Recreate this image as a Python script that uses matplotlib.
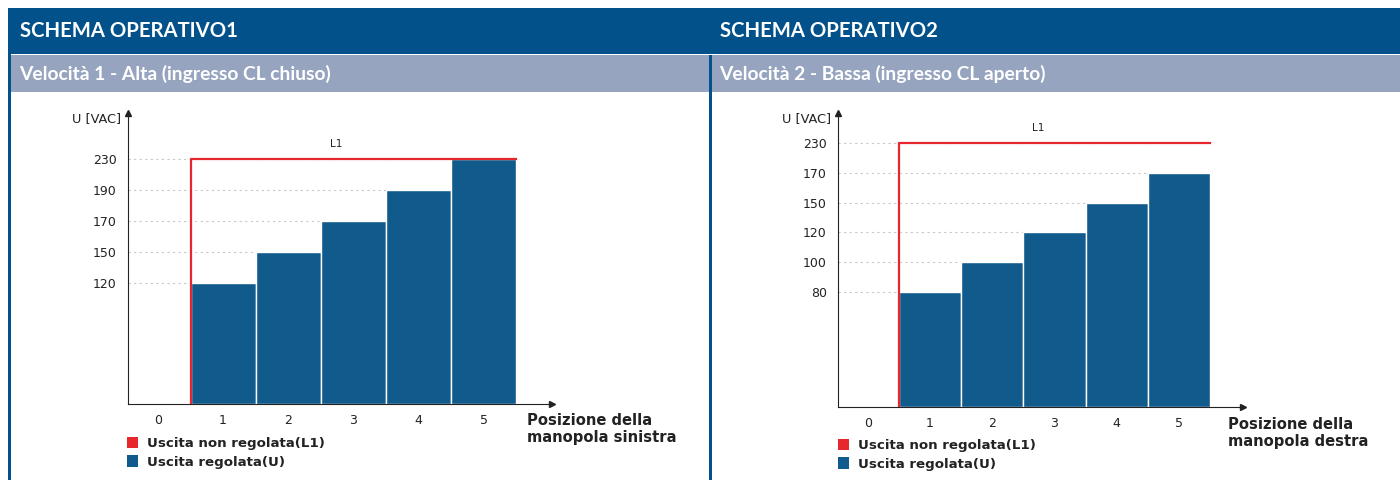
import numpy as np
import matplotlib
matplotlib.use('Agg')
import matplotlib.pyplot as plt
from matplotlib.patches import Rectangle, Patch

# data
POSITIONS = [0, 1, 2, 3, 4, 5]
BAR_POS = [1, 2, 3, 4, 5]

U_LEFT = [120, 150, 170, 190, 230]       # regulated output, left knob
U_RIGHT = [80, 100, 120, 150, 170]       # regulated output, right knob
L1_LEFT = [230, 230, 230, 230, 230]
L1_RIGHT = [230, 230, 230, 230, 230]

YTICKS_LEFT = [120, 150, 170, 190, 230]
YTICKS_RIGHT = [80, 100, 120, 150, 170, 230]

HEADERS = ['SCHEMA OPERATIVO1', 'SCHEMA OPERATIVO2']
SUBHEADERS = ['Velocità 1 - Alta (ingresso CL chiuso)',
              'Velocità 2 - Bassa (ingresso CL aperto)']
XLABELS = ['Posizione della\nmanopola sinistra', 'Posizione della\nmanopola destra']
LEGEND = ['Uscita non regolata(L1)', 'Uscita regolata(U)']

# colours
DARK = '#02518A'
LIGHT = '#96A4C0'
BAR = '#115A8C'
RED = '#E8262E'

W, H = 1400, 480
fig = plt.figure(figsize=(W / 100, H / 100), dpi=100)


def frac(x0, y0, x1, y1):
    # pixel box (top-left origin) -> figure fraction rect
    return [x0 / W, 1 - y1 / H, (x1 - x0) / W, (y1 - y0) / H]


def rect(x0, y0, x1, y1, color):
    l, b, w, h = frac(x0, y0, x1, y1)
    fig.add_artist(Rectangle((l, b), w, h, transform=fig.transFigure,
                             facecolor=color, edgecolor='none', zorder=0))


# frame / headers
rect(8, 8, 1400, 54, DARK)
rect(11, 55, 1400, 92, LIGHT)
rect(8, 8, 11, 480, DARK)
rect(709, 55, 712, 480, DARK)

for i, x in enumerate([20, 720]):
    fig.text(x / W, 1 - 31 / H, HEADERS[i], color='white', fontsize=14.6,
             fontweight='bold', family='Lato', va='center', ha='left')
    fig.text((x - 1) / W, 1 - 74 / H, SUBHEADERS[i], color='white', fontsize=13.9,
             fontweight='bold', family='Lato', va='center', ha='left')


def make_scale(ticks):
    vals = np.array([0] + list(ticks) + [ticks[-1] + 100], dtype=float)
    pos = np.array([0] + [3.9 + k for k in range(len(ticks))] + [3.9 + len(ticks) - 1 + 2.5])

    def fwd(v):
        return np.interp(v, vals, pos)

    def inv(p):
        return np.interp(p, pos, vals)
    return fwd, inv


def draw_chart(box, xlim, ticks, u, l1, top_pos, xlabel, xlab_off, leg_anchor):
    ax = fig.add_axes(frac(*box))
    fwd, inv = make_scale(ticks)
    ax.set_yscale('function', functions=(fwd, inv))
    ax.set_xlim(*xlim)
    ax.set_ylim(0, float(inv(top_pos)))

    ax.hlines(ticks, xlim[0], 5.5, colors='#c8c8c8', linestyles=(0, (2, 3)),
              linewidth=0.8, zorder=1)
    ax.bar(BAR_POS, u, width=1.0, color=BAR, edgecolor='white', linewidth=1,
           zorder=2)
    ax.step(np.r_[0.5, np.array(BAR_POS) + 0.5], np.r_[0, l1], where='pre',
            color=RED, linewidth=1.6, zorder=3)
    ax.annotate('L1', xy=(2.73, l1[0]), xytext=(0, 15), textcoords='offset pixels',
                ha='center', va='center', fontsize=7.5, color='#222222')

    for s in ['top', 'right']:
        ax.spines[s].set_visible(False)
    ax.spines['left'].set_color('#222222')
    ax.spines['bottom'].set_color('#222222')
    ax.plot(1, 0, '>', color='#222222', ms=5, transform=ax.transAxes, clip_on=False)
    ax.plot(0, 1, '^', color='#222222', ms=5, transform=ax.transAxes, clip_on=False)

    ax.set_yticks(ticks)
    ax.set_yticklabels([str(t) for t in ticks])
    ax.yaxis.set_minor_locator(matplotlib.ticker.NullLocator())
    ax.set_xticks(POSITIONS)
    ax.tick_params(length=0, labelsize=9, colors='#222222', pad=7)
    ax.tick_params(axis='y', pad=8)

    ax.annotate('U [VAC]', xy=(0, 1), xycoords='axes fraction', xytext=(-7, -6),
                textcoords='offset pixels', ha='right', va='center', fontsize=9.3,
                color='#222222')
    ax.annotate(xlabel, xy=(1, 0), xycoords='axes fraction', xytext=xlab_off,
                textcoords='offset pixels', ha='left', va='top', fontsize=10.6,
                fontweight='bold', color='#222222', linespacing=1.2)

    handles = [Patch(facecolor=RED, edgecolor='none'),
               Patch(facecolor=BAR, edgecolor='none')]
    ax.legend(handles, LEGEND, loc='upper left', bbox_to_anchor=leg_anchor,
              bbox_transform=fig.transFigure, frameon=False,
              prop={'weight': 'bold', 'size': 9.6}, handlelength=0.8,
              handleheight=0.9, handletextpad=0.7, labelspacing=0.4,
              borderpad=0, borderaxespad=0, labelcolor='#222222')
    return ax


draw_chart((128, 113, 552, 404), (-0.46, 6.05), YTICKS_LEFT, U_LEFT, L1_LEFT,
           9.39, XLABELS[0], (-25, -9), (127 / W, 1 - 437 / H))
draw_chart((838, 113, 1243, 407), (-0.48, 6.03), YTICKS_RIGHT, U_RIGHT, L1_RIGHT,
           9.93, XLABELS[1], (-15, -10), (838 / W, 1 - 439 / H))

fig.savefig('out.png', dpi=100)
